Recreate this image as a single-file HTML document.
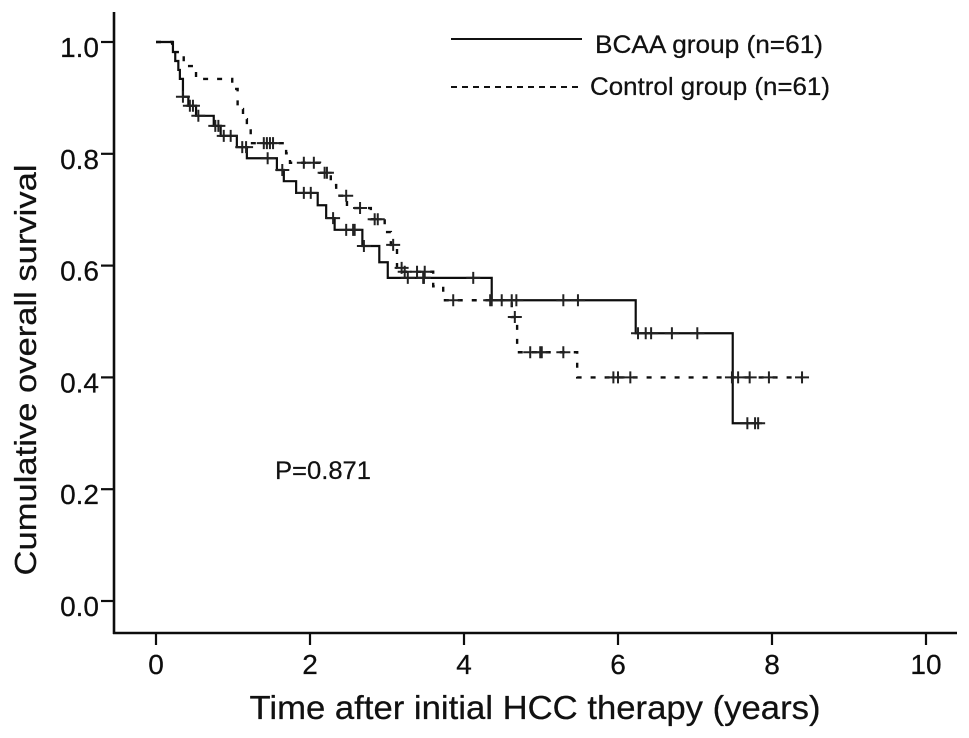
<!DOCTYPE html>
<html>
<head>
<meta charset="utf-8">
<title>Cumulative overall survival</title>
<style>
html,body{margin:0;padding:0;background:#fff;}
svg{display:block;}
text{font-family:"Liberation Sans",Arial,sans-serif;fill:#111;stroke:#111;stroke-width:0.25px;}
</style>
</head>
<body>
<svg id="chart" width="969" height="738" viewBox="0 0 969 738" xmlns="http://www.w3.org/2000/svg">
  <defs><filter id="soft" x="-5%" y="-5%" width="110%" height="110%"><feGaussianBlur stdDeviation="0.35"/></filter></defs>
  <g id="axes" filter="url(#soft)"></g>
  <g id="marks" filter="url(#soft)"></g>
  <text transform="translate(36,370) rotate(-90)" text-anchor="middle" font-size="31" textLength="411" lengthAdjust="spacingAndGlyphs">Cumulative overall survival</text>
  <text x="535" y="719" text-anchor="middle" font-size="33" textLength="571" lengthAdjust="spacingAndGlyphs">Time after initial HCC therapy (years)</text>
  <text x="275" y="479" font-size="25" textLength="96" lengthAdjust="spacingAndGlyphs">P=0.871</text>
  <g>
    <line x1="451" x2="582" y1="39" y2="39" stroke="#111" stroke-width="2"/>
    <text x="595" y="53" font-size="25" textLength="228" lengthAdjust="spacingAndGlyphs">BCAA group (n=61)</text>
    <line x1="451" x2="582" y1="87" y2="87" stroke="#111" stroke-width="2" stroke-dasharray="6 5"/>
    <text x="590" y="95" font-size="25" textLength="240" lengthAdjust="spacingAndGlyphs">Control group (n=61)</text>
  </g>
</svg>
<script>
const xTicks = [0, 2, 4, 6, 8, 10];
const yTicks = [0.0, 0.2, 0.4, 0.6, 0.8, 1.0];

const bcaaTimes = [0.22,0.25,0.29,0.31,0.35,0.42,0.52,0.75,0.84,1.05,1.18,1.57,1.66,1.82,2.10,2.21,2.32,2.68,2.90,3.01,4.36,6.23,7.49];
const bcaaSurvival = [0.982,0.966,0.950,0.934,0.902,0.886,0.868,0.850,0.832,0.812,0.792,0.771,0.751,0.730,0.708,0.685,0.664,0.635,0.606,0.578,0.538,0.479,0.318];
const bcaaCensored = [0.35,0.44,0.48,0.55,0.77,0.81,0.88,0.97,1.12,1.17,1.45,1.64,1.92,2.01,2.30,2.47,2.56,2.58,2.70,3.27,3.47,3.48,4.12,4.36,4.49,4.62,4.68,5.29,5.48,6.26,6.36,6.43,6.70,7.03,7.68,7.78,7.82];
const bcaaEnd = 7.84;

const controlTimes = [0.21,0.36,0.52,0.99,1.06,1.13,1.18,1.23,1.69,1.74,2.13,2.27,2.34,2.48,2.79,2.97,3.05,3.13,3.21,3.60,3.73,4.62,4.69,5.47];
const controlSurvival = [0.982,0.957,0.934,0.916,0.880,0.862,0.844,0.819,0.801,0.784,0.766,0.744,0.725,0.703,0.683,0.660,0.637,0.596,0.589,0.563,0.538,0.508,0.445,0.400];
const controlCensored = [1.40,1.44,1.48,1.52,1.92,2.05,2.19,2.22,2.47,2.65,2.84,2.88,3.08,3.19,3.23,3.39,3.49,3.86,4.34,4.66,4.86,4.99,5.01,5.29,5.94,6.00,6.16,7.48,7.56,7.71,7.96,8.39];
const controlEnd = 8.39;

const NS = 'http://www.w3.org/2000/svg';
const xScale = t => 156 + t * 77;
const yScale = s => 601 - s * 559;
const axes = document.getElementById('axes');
const marks = document.getElementById('marks');
const INK = '#111';

function make(tag, attrs, parent) {
  const el = document.createElementNS(NS, tag);
  for (const k in attrs) el.setAttribute(k, attrs[k]);
  parent.appendChild(el);
  return el;
}
function survivalAt(times, survival, t) {
  let s = 1;
  for (let i = 0; i < times.length; i++) if (t >= times[i]) s = survival[i];
  return s;
}
function stepPath(times, survival, end) {
  let d = 'M' + xScale(0) + ' ' + yScale(1);
  let prev = 1;
  times.forEach((t, i) => {
    d += 'L' + xScale(t) + ' ' + yScale(prev) + 'L' + xScale(t) + ' ' + yScale(survival[i]);
    prev = survival[i];
  });
  return d + 'L' + xScale(end) + ' ' + yScale(prev);
}

const yAxisLine = make('line', {x1:114, x2:114, y1:12, y2:634, stroke:INK, 'stroke-width':2.6}, axes);


const xAxisLine = make('line', {x1:113, x2:957, y1:633, y2:633, stroke:INK, 'stroke-width':2.6}, axes);



xTicks.forEach(v => {
  const tick = make('line', {x1:xScale(v), x2:xScale(v), y1:633, y2:645, stroke:INK, 'stroke-width':2.2}, axes);
  
  
  const label = make('text', {x:xScale(v), y:674, 'text-anchor':'middle', 'font-size':28}, axes);
  
  
  label.textContent = String(v);
});
yTicks.forEach(v => {
  const tick = make('line', {x1:101, x2:114, y1:yScale(v), y2:yScale(v), stroke:INK, 'stroke-width':2.2}, axes);
  
  
  const label = make('text', {x:99, y:yScale(v) + 15, 'text-anchor':'end', 'font-size':28}, axes);
  
  
  label.textContent = v.toFixed(1);
});

const bcaaLine = make('path', {d:stepPath(bcaaTimes, bcaaSurvival, bcaaEnd), fill:'none', stroke:INK, 'stroke-width':2.2}, marks);


const controlLine = make('path', {d:stepPath(controlTimes, controlSurvival, controlEnd), fill:'none', stroke:INK, 'stroke-width':2.4, 'stroke-dasharray':'5 9'}, marks);



function drawCensor(t, s, name) {
  const cx = xScale(t), cy = yScale(s);
  const mark = make('path', {d:'M' + (cx - 7) + ' ' + cy + 'H' + (cx + 7) + 'M' + cx + ' ' + (cy - 6) + 'V' + (cy + 6), fill:'none', stroke:'#222', 'stroke-width':2}, marks);
  
  
}
bcaaCensored.forEach(t => drawCensor(t, survivalAt(bcaaTimes, bcaaSurvival, t), 'bcaa-censor-mark'));
controlCensored.forEach(t => drawCensor(t, survivalAt(controlTimes, controlSurvival, t), 'control-censor-mark'));
</script>
</body>
</html>
